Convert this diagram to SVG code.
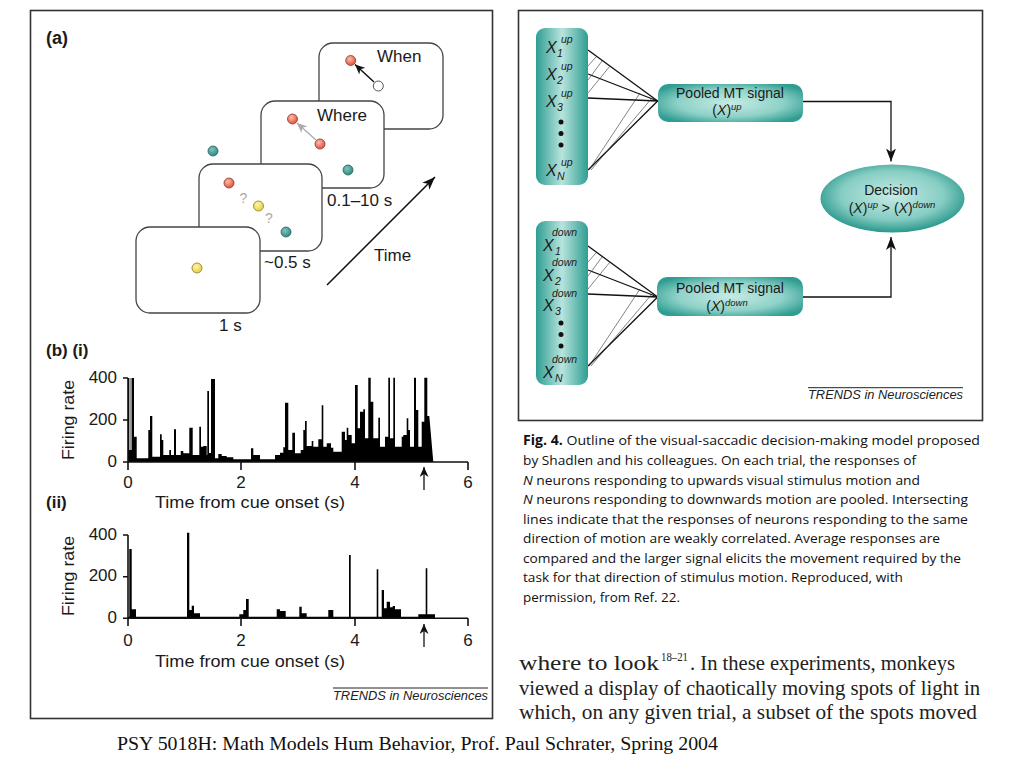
<svg xmlns="http://www.w3.org/2000/svg" width="1024" height="768" viewBox="0 0 1024 768">
<defs>
<style>
.sans{font-family:"Liberation Sans",Arial,sans-serif;fill:#1a1a1a}
.lbl{font-size:17px}
.tick{font-size:17px}
.frame{fill:#fff;stroke:#444;stroke-width:1.3}
.border{fill:none;stroke:#333;stroke-width:1.6}
.ax{stroke:#111;stroke-width:1.6;fill:none}
.bar{fill:#000}
.conn{stroke:#111;stroke-width:1.3;fill:none}
.thin{stroke:#333;stroke-width:0.6;fill:none}
.xi{font-family:"Liberation Sans",Arial,sans-serif;font-style:italic;fill:#1a1a1a}
.cap{font-family:"Open Sans","Liberation Sans",sans-serif;font-size:13.5px;fill:#111}
.serif{font-family:"Liberation Serif","Times New Roman",serif;fill:#222}
.trends{font-family:"Liberation Sans",Arial,sans-serif;font-style:italic;font-size:12px;fill:#222}
</style>
<radialGradient id="gRed" cx="40%" cy="35%" r="65%"><stop offset="0" stop-color="#fbc0a8"/><stop offset="1" stop-color="#e0503f"/></radialGradient>
<radialGradient id="gTeal" cx="40%" cy="35%" r="65%"><stop offset="0" stop-color="#7cc6bc"/><stop offset="1" stop-color="#2f8a82"/></radialGradient>
<radialGradient id="gYel" cx="40%" cy="35%" r="65%"><stop offset="0" stop-color="#fff6a8"/><stop offset="1" stop-color="#e8cf40"/></radialGradient>
<linearGradient id="gCol" x1="0" y1="0" x2="1" y2="0"><stop offset="0" stop-color="#2f9d92"/><stop offset="0.5" stop-color="#b8e4dd"/><stop offset="1" stop-color="#2f9d92"/></linearGradient>
<radialGradient id="gBox" cx="50%" cy="50%" r="60%"><stop offset="0" stop-color="#c6ebe5"/><stop offset="0.6" stop-color="#8fd2c8"/><stop offset="1" stop-color="#2f9d92"/></radialGradient>
<radialGradient id="gEll" cx="50%" cy="45%" r="55%"><stop offset="0" stop-color="#c6ebe5"/><stop offset="0.65" stop-color="#86cdc3"/><stop offset="1" stop-color="#2a978c"/></radialGradient>
<marker id="arr" markerUnits="userSpaceOnUse" markerWidth="14" markerHeight="10" refX="13" refY="5" orient="auto"><path d="M0,0 L13,5 L0,10 L3.5,5 Z" fill="#111"/></marker>
<marker id="arrS" markerUnits="userSpaceOnUse" markerWidth="11" markerHeight="9" refX="10" refY="4.5" orient="auto"><path d="M0,0 L10,4.5 L0,9 L3,4.5 Z" fill="#111"/></marker>
<marker id="arrG" markerUnits="userSpaceOnUse" markerWidth="11" markerHeight="9" refX="10" refY="4.5" orient="auto"><path d="M0,0 L10,4.5 L0,9 L3,4.5 Z" fill="#aaa"/></marker>
</defs>
<rect width="1024" height="768" fill="#fff"/>

<rect class="border" x="30.5" y="10.5" width="462" height="708"/>
<rect class="border" x="518.5" y="10.5" width="464" height="410"/>

<g id="panel-a">
<text class="sans" x="46" y="44" font-size="18" font-weight="bold">(a)</text>
<g id="frame-when">
<rect class="frame" x="319" y="43" width="124" height="86" rx="14"/>
<text class="sans lbl" x="377" y="62">When</text>
<line x1="374" y1="82" x2="355" y2="64.5" stroke="#111" stroke-width="1.5" marker-end="url(#arrS)"/>
<circle cx="378.3" cy="86" r="5" fill="#fff" stroke="#555" stroke-width="1"/>
<circle cx="350.7" cy="60.5" r="5" fill="url(#gRed)" stroke="#8a3a30" stroke-width="0.8"/>
</g>
<g id="frame-where">
<rect class="frame" x="261" y="101" width="123" height="87" rx="14"/>
<text class="sans lbl" x="317" y="121">Where</text>
<line x1="316" y1="140" x2="297" y2="123" stroke="#aaa" stroke-width="1.3" marker-end="url(#arrG)"/>
<circle cx="292.5" cy="119" r="5" fill="url(#gRed)" stroke="#8a3a30" stroke-width="0.8"/>
<circle cx="320" cy="144" r="5" fill="url(#gRed)" stroke="#8a3a30" stroke-width="0.8"/>
<circle cx="348" cy="170" r="5" fill="url(#gTeal)" stroke="#2d5e5a" stroke-width="0.8"/>
</g>
<circle cx="213" cy="151" r="5" fill="url(#gTeal)" stroke="#2d5e5a" stroke-width="0.8"/>
<g id="frame-choice">
<rect class="frame" x="199" y="164" width="123" height="87" rx="14"/>
<circle cx="229" cy="183" r="5" fill="url(#gRed)" stroke="#8a3a30" stroke-width="0.8"/>
<text class="sans" x="239.5" y="203" font-size="14" style="fill:#aaa">?</text>
<circle cx="258.5" cy="206" r="5" fill="url(#gYel)" stroke="#8a7a2a" stroke-width="0.8"/>
<text class="sans" x="265" y="223" font-size="14" style="fill:#aaa">?</text>
<circle cx="286" cy="232" r="5" fill="url(#gTeal)" stroke="#2d5e5a" stroke-width="0.8"/>
</g>
<g id="frame-fix">
<rect class="frame" x="136" y="227" width="124" height="86" rx="14"/>
<circle cx="197" cy="268" r="5" fill="url(#gYel)" stroke="#8a7a2a" stroke-width="0.8"/>
</g>
<text class="sans lbl" x="219" y="331">1 s</text>
<text class="sans lbl" x="264" y="268">~0.5 s</text>
<text class="sans lbl" x="327" y="206">0.1–10 s</text>
<line x1="327" y1="285" x2="435" y2="177" stroke="#111" stroke-width="1.5" marker-end="url(#arr)"/>
<text class="sans lbl" x="374" y="261">Time</text>
</g>

<g id="panel-bi">
<text class="sans" x="46" y="356" font-size="17" font-weight="bold">(b) (i)</text>
<text class="sans" transform="translate(74,420) rotate(-90)" text-anchor="middle" font-size="17" textLength="80" lengthAdjust="spacingAndGlyphs">Firing rate</text>
<path class="bar" d="M128,462 V378 H129.2 V450 H131.5 V378 H134 V436.7 H136.7 V458.3 H148.3 V430 H150 V416 H152.3 V456.7 H160 V434.3 H161.7 V440 H163.3 V455 H169.3 V450 H171 V455 H174 V429.3 H176 V455 H180.7 V451 H183.3 V453.3 H189.3 V427.7 H192.7 V455 H199.3 V426.7 H201 V446.7 H203.3 V446 H206.7 V455 H207.3 V391 H209 V453 H211 V379 H215 V458.3 H218.3 V454 H221.7 V456 H226.7 V457.3 H233.3 V459.3 H251 V448.3 H253.3 V455 H260 V459.3 H275 V455 H280 V452.7 H283.3 V447.3 H285 V402.7 H288.3 V450 H292.3 V432.7 H295 V453.3 H300.7 V450 H303.3 V430 H305 V421 H306.7 V446 H311.7 V441 H313.3 V446.7 H318.3 V439.3 H321.7 V405.3 H323.3 V446.7 H326.7 V443.3 H331 V447.7 H333.3 V451.7 H341.7 V431.7 H345 V440 H346.7 V427.7 H348.3 V435 H351.7 V443.3 H355 V385 H357.7 V428.3 H360 V411.7 H363.3 V409.3 H365 V438.3 H368.3 V377.7 H370.7 V401.7 H373.3 V438.3 H378.3 V417.7 H380 V446.7 H385 V436.7 H388.3 V377.7 H390 V438.3 H393.3 V377.7 H395 V446.7 H401.7 V436.7 H403.3 V435 H406.7 V418.3 H408.3 V430 H410 V446.7 H414 V377.7 H416 V410 H418.3 V446.7 H421.7 V421.7 H424.3 V377.7 H427.3 V416 H429.3 L433.3,462 Z"/>
<rect x="129.3" y="378" width="2.1" height="72" fill="#999"/>
<path class="ax" d="M128,378 V462 H468 M123,378 H128 M123,420 H128 M123,462 H128 M128,462 V470 M241,462 V470 M355,462 V470 M468,462 V470"/>
<g class="sans tick" text-anchor="end">
<text x="117" y="383">400</text><text x="117" y="425">200</text><text x="117" y="467">0</text>
</g>
<g class="sans tick" text-anchor="middle">
<text x="128" y="488">0</text><text x="241" y="488">2</text><text x="355" y="488">4</text><text x="468" y="488">6</text>
</g>
<line x1="424" y1="490" x2="424" y2="467" stroke="#111" stroke-width="1.3" marker-end="url(#arrS)"/>
<text class="sans" x="250" y="508" font-size="17" text-anchor="middle" textLength="190" lengthAdjust="spacingAndGlyphs">Time from cue onset (s)</text>
</g>

<g id="panel-bii">
<text class="sans" x="46" y="508" font-size="17" font-weight="bold">(ii)</text>
<text class="sans" transform="translate(74,576) rotate(-90)" text-anchor="middle" font-size="17" textLength="80" lengthAdjust="spacingAndGlyphs">Firing rate</text>
<path class="bar" d="M128,618.5 V616.7 H129.3 V549 H131.7 V609.3 H136 V616.7 H187 V532.7 H189.3 V610 H191.7 V605.7 H194 V613.3 H200 V616.7 H239.3 V614.3 H243.3 V610 H246 V599 H248.7 V616.7 H276.7 V609.3 H280 V611 H285.7 V616.7 H299.3 V606.7 H301.7 V613.3 H306.7 V616.7 H328.3 V610 H333.3 V616.7 H349 V555 H350.7 V616.7 H376.7 V569.3 H378.3 V616.7 H381.7 V590 H384 V608.3 H386.7 V601.7 H390 V607.3 H392.7 V606 H395 V609.3 H401 V616.7 H418.3 V614.3 H425.7 V568.3 H427.3 V614.3 H435 V618.5 Z"/>
<path class="ax" d="M128,535 V618.3 H468 M123,535 H128 M123,576.7 H128 M123,618.3 H128 M128,618.3 V626 M241,618.3 V626 M355,618.3 V626 M468,618.3 V626"/>
<g class="sans tick" text-anchor="end">
<text x="117" y="540">400</text><text x="117" y="581">200</text><text x="117" y="623">0</text>
</g>
<g class="sans tick" text-anchor="middle">
<text x="128" y="646">0</text><text x="241" y="646">2</text><text x="355" y="646">4</text><text x="468" y="646">6</text>
</g>
<line x1="424" y1="647" x2="424" y2="624" stroke="#111" stroke-width="1.3" marker-end="url(#arrS)"/>
<text class="sans" x="250" y="667" font-size="17" text-anchor="middle" textLength="190" lengthAdjust="spacingAndGlyphs">Time from cue onset (s)</text>
<line x1="333" y1="688" x2="488" y2="688" stroke="#222" stroke-width="1"/>
<text class="trends" x="333" y="700" textLength="155" lengthAdjust="spacingAndGlyphs">TRENDS in Neurosciences</text>
</g>

<g id="connectors">
<g class="conn">
<line x1="588" y1="50" x2="657.7" y2="101"/>
<line x1="588" y1="74" x2="657.7" y2="101"/>
<line x1="588" y1="98" x2="657.7" y2="101"/>
<line x1="588" y1="170" x2="657.7" y2="101"/>
<line x1="588" y1="246" x2="657.7" y2="297"/>
<line x1="588" y1="270" x2="657.7" y2="297"/>
<line x1="588" y1="294" x2="657.7" y2="297"/>
<line x1="588" y1="366" x2="657.7" y2="297"/>
</g>
<g class="thin">
<line x1="588" y1="66" x2="596" y2="57"/>
<line x1="588" y1="80" x2="602" y2="61"/>
<line x1="588" y1="93" x2="610" y2="66"/>
<line x1="589" y1="170" x2="640" y2="93"/>
<line x1="591" y1="170" x2="652" y2="98"/>
<line x1="588" y1="262" x2="596" y2="253"/>
<line x1="588" y1="276" x2="602" y2="257"/>
<line x1="588" y1="289" x2="610" y2="262"/>
<line x1="589" y1="366" x2="640" y2="289"/>
<line x1="591" y1="366" x2="652" y2="294"/>
</g>
<polyline class="conn" points="803,101.5 891,101.5 891,161.5" marker-end="url(#arr)"/>
<polyline class="conn" points="803,297 891,297 891,237" marker-end="url(#arr)"/>
</g>

<g id="col-up">
<rect x="536" y="28" width="52" height="157" rx="9" fill="url(#gCol)"/>
<text class="xi" x="546" y="53" font-size="16">X</text><text class="xi" x="557" y="57" font-size="10.5">1</text><text class="xi" x="561" y="43" font-size="10.5">up</text>
<text class="xi" x="546" y="80" font-size="16">X</text><text class="xi" x="557" y="84" font-size="10.5">2</text><text class="xi" x="561" y="70" font-size="10.5">up</text>
<text class="xi" x="546" y="107" font-size="16">X</text><text class="xi" x="557" y="111" font-size="10.5">3</text><text class="xi" x="561" y="97" font-size="10.5">up</text>
<circle cx="561" cy="122" r="2.5" fill="#111"/><circle cx="561" cy="133.5" r="2.5" fill="#111"/><circle cx="561" cy="145" r="2.5" fill="#111"/>
<text class="xi" x="546" y="176" font-size="16">X</text><text class="xi" x="557" y="180" font-size="10.5">N</text><text class="xi" x="561" y="166" font-size="10.5">up</text>
</g>

<g id="col-down">
<rect x="536" y="221" width="52" height="164" rx="9" fill="url(#gCol)"/>
<text class="xi" x="552" y="236" font-size="10.5">down</text><text class="xi" x="543" y="251" font-size="16">X</text><text class="xi" x="555" y="255" font-size="10.5">1</text>
<text class="xi" x="552" y="266" font-size="10.5">down</text><text class="xi" x="543" y="281" font-size="16">X</text><text class="xi" x="555" y="285" font-size="10.5">2</text>
<text class="xi" x="552" y="297" font-size="10.5">down</text><text class="xi" x="543" y="311" font-size="16">X</text><text class="xi" x="555" y="315" font-size="10.5">3</text>
<circle cx="561" cy="323" r="2.5" fill="#111"/><circle cx="561" cy="334.5" r="2.5" fill="#111"/><circle cx="561" cy="346" r="2.5" fill="#111"/>
<text class="xi" x="552" y="363" font-size="10.5">down</text><text class="xi" x="543" y="378" font-size="16">X</text><text class="xi" x="555" y="382" font-size="10.5">N</text>
</g>

<g id="pool-up">
<rect x="658" y="84" width="145" height="38" rx="10" fill="url(#gBox)"/>
<text class="sans" x="730" y="98" font-size="14" text-anchor="middle">Pooled MT signal</text>
<text class="sans" x="727" y="115" font-size="14" text-anchor="middle">(<tspan font-style="italic">X</tspan>)<tspan font-style="italic" font-size="9.5" dy="-5">up</tspan></text>
</g>

<g id="pool-down">
<rect x="657" y="277" width="146" height="39" rx="10" fill="url(#gBox)"/>
<text class="sans" x="730" y="293" font-size="14" text-anchor="middle">Pooled MT signal</text>
<text class="sans" x="727" y="311" font-size="14" text-anchor="middle">(<tspan font-style="italic">X</tspan>)<tspan font-style="italic" font-size="9.5" dy="-5">down</tspan></text>
</g>

<g id="decision">
<ellipse cx="892.5" cy="198.5" rx="72" ry="34" fill="url(#gEll)"/>
<text class="sans" x="891" y="195" font-size="14" text-anchor="middle">Decision</text>
<text class="sans" x="892" y="213" font-size="14" text-anchor="middle">(<tspan font-style="italic">X</tspan>)<tspan font-style="italic" font-size="9.5" dy="-5">up</tspan><tspan dy="5"> &gt; (</tspan><tspan font-style="italic">X</tspan>)<tspan font-style="italic" font-size="9.5" dy="-5">down</tspan></text>
</g>

<line x1="808" y1="387.7" x2="963" y2="387.7" stroke="#222" stroke-width="1"/>
<text class="trends" x="808" y="399" textLength="155" lengthAdjust="spacingAndGlyphs">TRENDS in Neurosciences</text>

<g id="caption">
<text class="cap" x="523" y="445" textLength="457" lengthAdjust="spacingAndGlyphs"><tspan font-weight="bold">Fig. 4.</tspan> Outline of the visual-saccadic decision-making model proposed</text>
<text class="cap" x="523" y="465" textLength="393" lengthAdjust="spacingAndGlyphs">by Shadlen and his colleagues. On each trial, the responses of</text>
<text class="cap" x="523" y="484.5" textLength="397" lengthAdjust="spacingAndGlyphs"><tspan font-style="italic">N</tspan> neurons responding to upwards visual stimulus motion and</text>
<text class="cap" x="523" y="504" textLength="445" lengthAdjust="spacingAndGlyphs"><tspan font-style="italic">N</tspan> neurons responding to downwards motion are pooled. Intersecting</text>
<text class="cap" x="523" y="523.5" textLength="445" lengthAdjust="spacingAndGlyphs">lines indicate that the responses of neurons responding to the same</text>
<text class="cap" x="523" y="543" textLength="417" lengthAdjust="spacingAndGlyphs">direction of motion are weakly correlated. Average responses are</text>
<text class="cap" x="523" y="562.5" textLength="438" lengthAdjust="spacingAndGlyphs">compared and the larger signal elicits the movement required by the</text>
<text class="cap" x="523" y="582" textLength="380" lengthAdjust="spacingAndGlyphs">task for that direction of stimulus motion. Reproduced, with</text>
<text class="cap" x="523" y="601.5" textLength="157" lengthAdjust="spacingAndGlyphs">permission, from Ref. 22.</text>
</g>

<g id="body-text">
<text class="serif" x="519" y="670" font-size="20" textLength="140" lengthAdjust="spacingAndGlyphs">where to look</text>
<text class="serif" x="661" y="661" font-size="12" textLength="27" lengthAdjust="spacingAndGlyphs">18–21</text>
<text class="serif" x="690" y="670" font-size="20" textLength="265" lengthAdjust="spacingAndGlyphs">. In these experiments, monkeys</text>
<text class="serif" x="519" y="694.5" font-size="20" textLength="461" lengthAdjust="spacingAndGlyphs">viewed a display of chaotically moving spots of light in</text>
<text class="serif" x="519" y="719" font-size="20" textLength="458" lengthAdjust="spacingAndGlyphs">which, on any given trial, a subset of the spots moved</text>
</g>

<text class="serif" x="117" y="750" font-size="19" textLength="601" lengthAdjust="spacingAndGlyphs" style="fill:#111">PSY 5018H: Math Models Hum Behavior, Prof. Paul Schrater, Spring 2004</text>
</svg>
